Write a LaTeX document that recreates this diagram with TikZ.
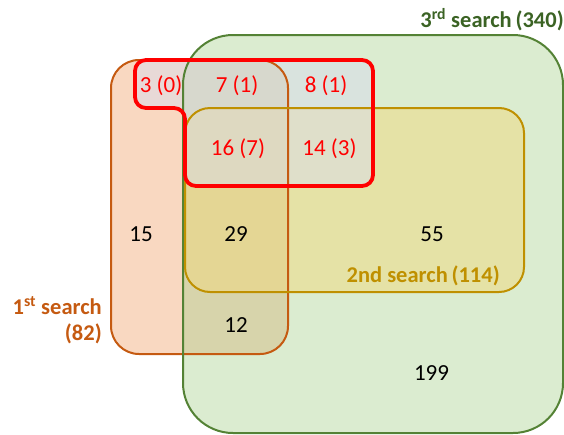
\documentclass[tikz,border=0pt]{standalone}
\usepackage{fontspec}
\setmainfont{Carlito}
\definecolor{gfill}{HTML}{A9D18E}
\definecolor{gline}{HTML}{548235}
\definecolor{gtext}{HTML}{3B6324}
\definecolor{ofill}{HTML}{F4B183}
\definecolor{oline}{HTML}{C55A11}
\definecolor{yfill}{HTML}{F0D97E}
\definecolor{yline}{HTML}{BF9000}
\definecolor{rfill}{HTML}{D8DCEE}
\definecolor{rline}{HTML}{FF0000}
\begin{document}
\begin{tikzpicture}[x=1pt,y=-1pt,
  num/.style={font=\fontsize{23}{27}\selectfont, anchor=base, inner sep=0pt},
  rnum/.style={num, text=rline},
  lab/.style={font=\fontsize{22.5}{26}\selectfont\bfseries, anchor=base east, inner sep=0pt}]
\useasboundingbox (0,0) rectangle (564,434);
% fills
\fill[ofill, fill opacity=0.5, rounded corners=28pt] (111,60) rectangle (288,354);
\fill[gfill, fill opacity=0.42, rounded corners=50pt] (183,35) rectangle (563,433);
\fill[yfill, fill opacity=0.5, rounded corners=25pt] (185,108) rectangle (524,292);
\fill[rfill, fill opacity=0.5, rounded corners=11pt] (280,186) -- (185,186) -- (185,108) -- (135,108) -- (135,60) -- (373,60) -- (373,186) -- cycle;
% outlines
\draw[oline, line width=2pt, rounded corners=28pt] (111,60) rectangle (288,354);
\draw[gline, line width=2pt, rounded corners=50pt] (183,35) rectangle (563,433);
\draw[yline, line width=2pt, rounded corners=25pt] (185,108) rectangle (524,292);
\draw[rline, line width=3.8pt, rounded corners=11pt] (280,186) -- (185,186) -- (185,108) -- (135,108) -- (135,60) -- (373,60) -- (373,186) -- cycle;
% numbers
\node[rnum] (n30) at (161,92) {3 (0)};
\node[rnum] (n71) at (237,92) {7 (1)};
\node[rnum] (n81) at (326,92) {8 (1)};
\node[rnum] (n167) at (238,155) {16 (7)};
\node[rnum] (n143) at (329.5,155) {14 (3)};
\node[num] (n15) at (141,241) {15};
\node[num] (n29) at (236,241) {29};
\node[num] (n55) at (432,241) {55};
\node[num] (n12) at (236,332) {12};
\node[num] (n199) at (431.5,380) {199};
% labels
\node[lab, text=gtext] (l3) at (564,27) {3\textsuperscript{rd} search\,(340)};
\node[lab, text=yline] (l2) at (500,282) {2nd search\,(114)};
\node[lab, text=oline] (l1a) at (102,314) {1\textsuperscript{st} search};
\node[lab, text=oline] (l1b) at (102,340) {(82)};
\end{tikzpicture}
\end{document}
